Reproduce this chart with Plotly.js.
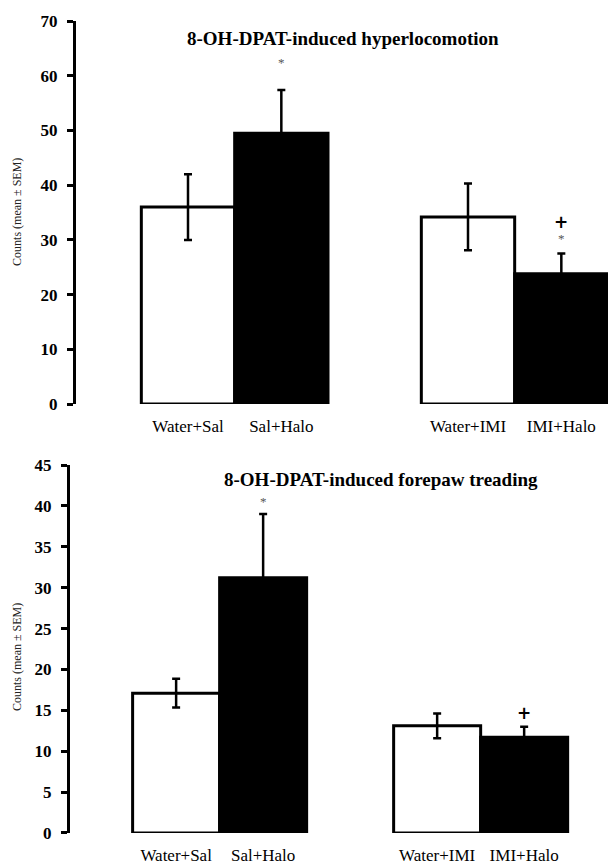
<!DOCTYPE html>
<html>
<head>
<meta charset="utf-8">
<script src="https://cdn.plot.ly/plotly-3.0.1.min.js"></script>
<style>html,body{margin:0;padding:0;background:#fff;}#chart{width:608px;height:865px;}</style>
</head>
<body>
<div id="chart"></div>
<script>
// ---- data ----
const groups = ["Water+Sal", "Sal+Halo", "Water+IMI", "IMI+Halo"];
const slotOrder = ["Water+Sal", "Sal+Halo", " ", "Water+IMI", "IMI+Halo"]; // blank slot separates the two pairs
const barColors = ["white", "black", "white", "black"];

const locoTitle = "8-OH-DPAT-induced hyperlocomotion";
const locoMean = [36.0, 49.5, 34.2, 23.8];
const locoSem  = [6.0, 7.9, 6.1, 3.7];
const locoStar = ["", "*", "", "*"];
const locoPlus = ["", "", "", "+"];

const treadTitle = "8-OH-DPAT-induced forepaw treading";
const treadMean = [17.1, 31.2, 13.1, 11.7];
const treadSem  = [1.75, 7.8, 1.5, 1.3];
const treadStar = ["", "*", "", ""];
const treadPlus = ["", "", "", "+"];

const yLabel = "Counts (mean ± SEM)";
const locoTicks = [0, 10, 20, 30, 40, 50, 60, 70];
const treadTicks = [0, 5, 10, 15, 20, 25, 30, 35, 40, 45];

// ---- styling ----
const serif = "Liberation Serif, Times New Roman, serif";

function barTrace(means, sems, xa, ya) {
  return {
    type: "bar", x: groups, y: means, xaxis: xa, yaxis: ya,
    width: 1,
    marker: { color: barColors, line: { color: "black", width: 3 } },
    error_y: { type: "data", array: sems, visible: true, color: "black", thickness: 2.5, width: 4 },
    showlegend: false, hoverinfo: "skip"
  };
}

const data = [
  barTrace(locoMean, locoSem, "x", "y"),
  barTrace(treadMean, treadSem, "x2", "y2")
];

function yAxis(range, ticks, domain, anchor) {
  return {
    domain: domain, range: range, anchor: anchor,
    tickvals: ticks, ticktext: ticks.map(t => "<b>" + t + "</b>"),
    ticks: "outside", ticklen: 6, tickwidth: 3, tickcolor: "black",
    showline: true, linewidth: 3, linecolor: "black",
    showgrid: false, zeroline: false,
    tickfont: { family: serif, size: 17, color: "black" },
    ticklabelstandoff: 6
  };
}
function xAxis(range, domain, anchor) {
  return {
    domain: domain, range: range, anchor: anchor,
    type: "category", categoryorder: "array", categoryarray: slotOrder,
    tickvals: groups, ticks: "", showline: false, showgrid: false, zeroline: false,
    tickfont: { family: serif, size: 17, color: "black" },
    ticklabelstandoff: 10
  };
}

const annotations = [];
function marks(means, sems, stars, pluses, xa, ya, starShift, plusShift) {
  groups.forEach((g, i) => {
    if (stars[i]) annotations.push({
      x: g, y: means[i] + sems[i], xref: xa, yref: ya, text: stars[i], showarrow: false,
      yanchor: "bottom", yshift: starShift[i], font: { family: serif, size: 13, color: "#555" }
    });
    if (pluses[i]) annotations.push({
      x: g, y: means[i] + sems[i], xref: xa, yref: ya, text: "<b>" + pluses[i] + "</b>", showarrow: false,
      yanchor: "bottom", yshift: plusShift[i], font: { family: "DejaVu Sans, sans-serif", size: 17, color: "black" }
    });
  });
}
marks(locoMean, locoSem, locoStar, locoPlus, "x", "y", [0, 18, 0, 6], [0, 0, 0, 20]);
marks(treadMean, treadSem, treadStar, treadPlus, "x2", "y2", [0, 3, 0, 0], [0, 0, 0, 2]);

annotations.push(
  { text: "<b>" + locoTitle + "</b>", xref: "paper", yref: "paper", x: 0.564, y: 0.956,
    xanchor: "center", yanchor: "middle", showarrow: false,
    font: { family: serif, size: 19, color: "black" } },
  { text: "<b>" + treadTitle + "</b>", xref: "paper", yref: "paper", x: 0.627, y: 0.4462,
    xanchor: "center", yanchor: "middle", showarrow: false,
    font: { family: serif, size: 19, color: "black" } },
  { text: yLabel, xref: "paper", yref: "paper", x: 0.028, y: 0.755, textangle: -90,
    xanchor: "center", yanchor: "middle", showarrow: false,
    font: { family: serif, size: 12, color: "#222" } },
  { text: yLabel, xref: "paper", yref: "paper", x: 0.028, y: 0.2405, textangle: -90,
    xanchor: "center", yanchor: "middle", showarrow: false,
    font: { family: serif, size: 12, color: "#222" } }
);

const layout = {
  width: 608, height: 865,
  margin: { l: 0, r: 0, t: 0, b: 0 },
  paper_bgcolor: "white", plot_bgcolor: "white",
  bargap: 0,
  xaxis: xAxis([-1.2, 4.5], [0.125, 1], "y"),
  yaxis: yAxis([0, 70], locoTicks, [0.5329, 0.9757], "x"),
  xaxis2: xAxis([-1.22, 4.55], [0.1151, 0.9408], "y2"),
  yaxis2: yAxis([0, 45], treadTicks, [0.0370, 0.4624], "x2"),
  annotations: annotations
};

Plotly.newPlot("chart", data, layout, { staticPlot: true, displayModeBar: false });
</script>
</body>
</html>
